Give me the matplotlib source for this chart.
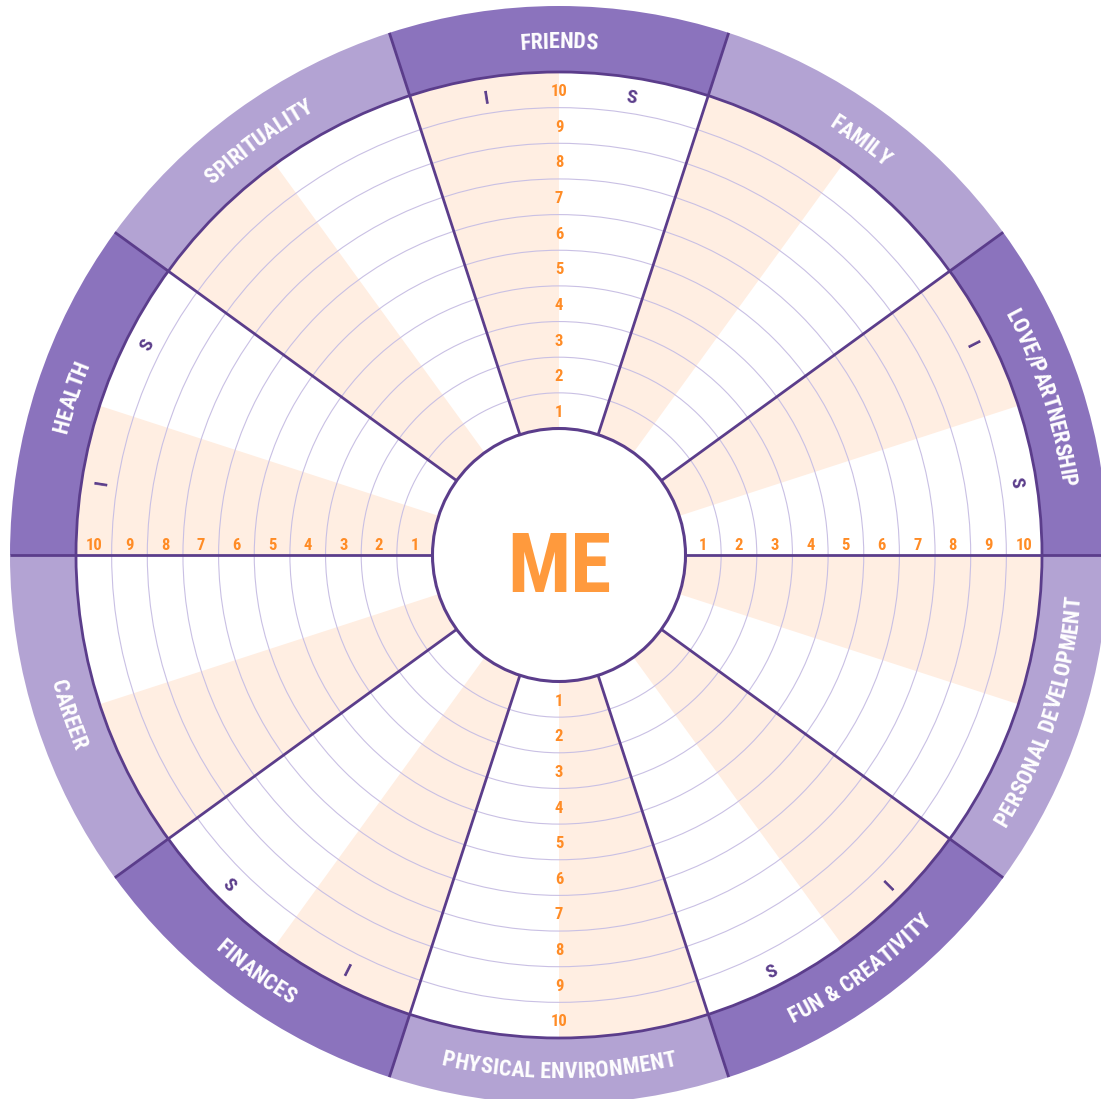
import numpy as np
import matplotlib
matplotlib.use('Agg')
import matplotlib.pyplot as plt
from matplotlib.patches import Wedge, Circle
from matplotlib import font_manager
from matplotlib.font_manager import FontProperties, get_font

# categories clockwise from the top
categories = ['FRIENDS', 'FAMILY', 'LOVE/PARTNERSHIP', 'PERSONAL DEVELOPMENT',
              'FUN & CREATIVITY', 'PHYSICAL ENVIRONMENT', 'FINANCES', 'CAREER',
              'HEALTH', 'SPIRITUALITY']
band_tone = ['dark', 'light', 'dark', 'light', 'dark',
             'light', 'dark', 'light', 'dark', 'light']
scale = list(range(1, 11))
marker_cats = ['FRIENDS', 'LOVE/PARTNERSHIP', 'FUN & CREATIVITY', 'FINANCES', 'HEALTH']
marker_text = ['I', 'S']
number_axes = [90, 270, 0, 180]
centre_label = 'ME'

# colours
DARK = '#8B73BD'
LIGHT = '#B3A3D3'
LINE = '#5B3D8B'
RING = '#C9C0E4'
PEACH = '#FFEEE2'
ORANGE = '#FF8C26'
ME_ORANGE = '#FF9A3D'

# pick a narrow font if there is one
avail = {f.name for f in font_manager.fontManager.ttflist}
FAM = 'DejaVu Sans'
for fam in ['Roboto Condensed', 'Liberation Sans Narrow', 'Open Sans Condensed']:
    if fam in avail:
        FAM = fam
        break

PX = 100 / 72  # pixels per point
cx, cy = 559, 544
R0, R10, ROUT = 126.5, 483, 549
step = (R10 - R0) / 10

fig = plt.figure(figsize=(11.01, 10.99), dpi=100)
ax = fig.add_axes([0, 0, 1, 1])
ax.set_xlim(0, 1101)
ax.set_ylim(0, 1099)
ax.axis('off')


def font_info(size, weight):
    fp = FontProperties(family=FAM, size=size, weight=weight)
    ft = get_font(font_manager.findfont(fp))
    ft.set_size(size, 72)
    cap = ft.load_char(ord('H')).height / 64 * PX
    return fp, ft, cap


def arc_text(s, theta, rmid, size, color, weight='normal'):
    fp, ft, cap = font_info(size, weight)
    w = np.array([ft.load_char(ord(c)).linearHoriAdvance / 65536 for c in s]) * PX
    offs = np.cumsum(w) - w / 2 - w.sum() / 2
    top = 0 < theta % 360 < 180
    for c, o in zip(s, offs):
        if top:
            phi = np.radians(theta) - o / rmid
            rb = rmid - cap / 2
            rot = np.degrees(phi) - 90
        else:
            phi = np.radians(theta) + o / rmid
            rb = rmid + cap / 2
            rot = np.degrees(phi) + 90
        ax.text(cx + rb * np.cos(phi), cy + rb * np.sin(phi), c, fontproperties=fp,
                color=color, rotation=rot, rotation_mode='anchor',
                ha='center', va='baseline', zorder=6)


for i, (cat, tone) in enumerate(zip(categories, band_tone)):
    th = 90 - 36 * i
    # shaded half of each sector
    ax.add_patch(Wedge((cx, cy), R10, th, th + 18, width=R10 - R0,
                       facecolor=PEACH, edgecolor='none', zorder=1))
    # outer band
    ax.add_patch(Wedge((cx, cy), ROUT, th - 18, th + 18, width=ROUT - R10,
                       facecolor=DARK if tone == 'dark' else LIGHT,
                       edgecolor='none', zorder=2))
    arc_text(cat, th, 515, 16, 'white', 'semibold')
    if cat in marker_cats:
        arc_text(marker_text[0], th + 9, 465, 14, LINE, 'bold')
        arc_text(marker_text[1], th - 9, 465, 14, LINE, 'bold')

# rings
for k in scale[:-1]:
    ax.add_patch(Circle((cx, cy), R0 + k * step, fill=False, edgecolor=RING,
                        linewidth=0.8, zorder=3))
ax.add_patch(Circle((cx, cy), R10, fill=False, edgecolor=LINE, linewidth=2, zorder=4))

# spokes
for a in np.radians(np.arange(0, 360, 36)):
    ax.plot([cx + R0 * np.cos(a), cx + ROUT * np.cos(a)],
            [cy + R0 * np.sin(a), cy + ROUT * np.sin(a)],
            color=LINE, linewidth=2, solid_capstyle='butt', zorder=4)

# centre
ax.add_patch(Circle((cx, cy), R0, facecolor='white', edgecolor=LINE,
                    linewidth=2.2, zorder=5))
fp_me, _, _ = font_info(60, 'bold')
ax.text(cx, 507, centre_label, fontproperties=fp_me, color=ME_ORANGE,
        ha='center', va='baseline', zorder=6)

# scale numbers
fp_n, _, cap_n = font_info(12, 'semibold')
for ang in number_axes:
    for k in scale:
        r = R0 + (k - 0.5) * step
        if ang in (90, 270):
            x = cx
            y = cy + r * np.sin(np.radians(ang)) - cap_n / 2
        else:
            x = cx + r * np.cos(np.radians(ang))
            y = cy + 11 - cap_n / 2
        ax.text(x, y, str(k), fontproperties=fp_n, color=ORANGE,
                ha='center', va='baseline', zorder=6)

fig.savefig('out.png', dpi=100, facecolor='white')
